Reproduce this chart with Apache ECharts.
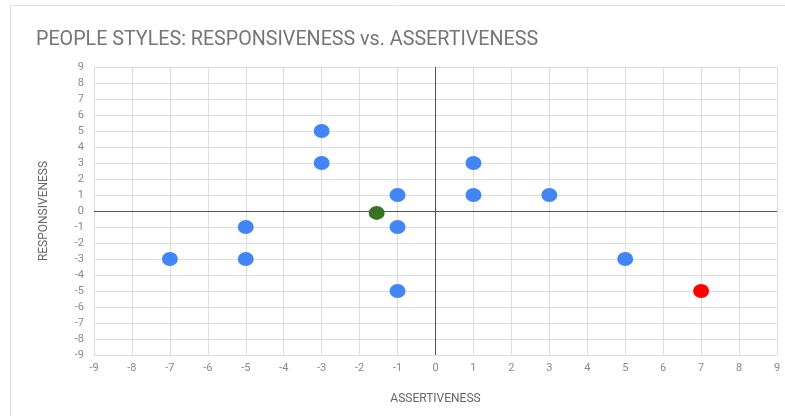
<!DOCTYPE html>
<html><head><meta charset="utf-8">
<script src="https://cdn.jsdelivr.net/npm/echarts@6/dist/echarts.min.js"></script>
<style>html,body{margin:0;padding:0;background:#fff}#c{width:785px;height:416px}</style>
</head><body><div id="c"></div>
<script>
const titleText = "PEOPLE STYLES: RESPONSIVENESS vs. ASSERTIVENESS";
const xName = "ASSERTIVENESS";
const yName = "RESPONSIVENESS";
const peopleX = [-3, -3, 1, -1, 1, 3, -5, -1, -7, -5, 5, -1];
const peopleY = [5, 3, 3, 1, 1, 1, -1, -1, -3, -3, -3, -5];
const greenPoint = [-1.55, -0.12];
const redPoint = [7, -5];

const chart = echarts.init(document.getElementById('c'), null, {renderer: 'canvas'});
const labelStyle = {color: '#888', fontSize: 11, fontFamily: 'Roboto'};
chart.setOption({
  animation: false,
  graphic: [
    {type: 'line', shape: {x1: 10, y1: 5.5, x2: 785, y2: 5.5}, style: {stroke: '#e2e2e2', lineWidth: 1}},
    {type: 'line', shape: {x1: 10.5, y1: 5, x2: 10.5, y2: 416}, style: {stroke: '#e2e2e2', lineWidth: 1}}
  ],
  title: {text: titleText, left: 31, top: 25,
    textStyle: {color: '#757575', fontSize: 19.7, fontWeight: 'normal', fontFamily: 'Roboto'}},
  grid: {left: 94, right: 8, top: 67, bottom: 61},
  xAxis: {type: 'value', min: -9, max: 9, interval: 1,
    name: xName, nameLocation: 'middle', nameGap: 38,
    nameTextStyle: {color: '#666', fontSize: 12, fontFamily: 'Roboto'},
    axisLine: {show: false}, axisTick: {show: false},
    axisLabel: Object.assign({margin: 8}, labelStyle),
    splitLine: {show: true, lineStyle: {color: '#dcdcdc'}}},
  yAxis: {type: 'value', min: -9, max: 9, interval: 1,
    name: yName, nameLocation: 'middle', nameGap: 44, nameRotate: 90,
    nameTextStyle: {color: '#666', fontSize: 12, fontFamily: 'Roboto'},
    axisLine: {show: false}, axisTick: {show: false},
    axisLabel: Object.assign({margin: 10}, labelStyle),
    splitLine: {show: true, lineStyle: {color: '#dcdcdc'}}},
  series: [
    {type: 'scatter', symbol: 'circle', symbolSize: [16, 14],
      itemStyle: {color: '#4285f4', opacity: 1},
      data: peopleX.map((x, i) => [x, peopleY[i]]),
      markLine: {silent: true, symbol: 'none', label: {show: false},
        lineStyle: {color: '#555', width: 1, type: 'solid'},
        data: [{xAxis: 0}, {yAxis: 0}]},
      z: 3},
    {type: 'scatter', symbol: 'circle', symbolSize: [16, 14],
      itemStyle: {color: '#38761d', opacity: 1}, data: [greenPoint], z: 4},
    {type: 'scatter', symbol: 'circle', symbolSize: [16, 14],
      itemStyle: {color: '#ff0000', opacity: 1}, data: [redPoint], z: 4}
  ]
});
</script></body></html>
